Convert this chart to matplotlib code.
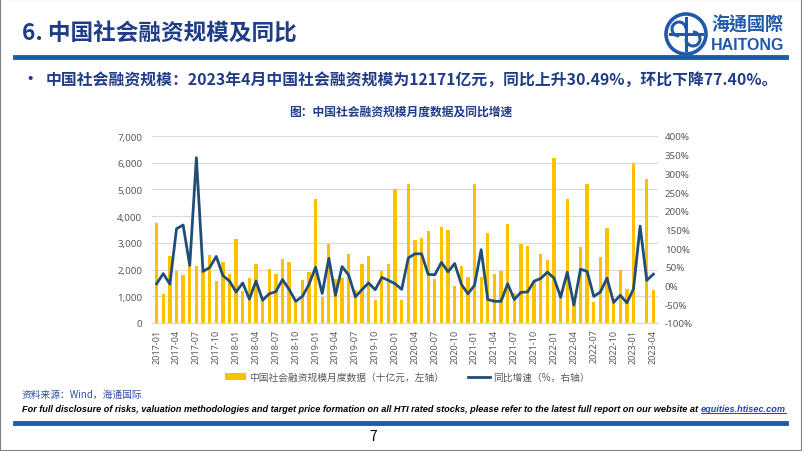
import matplotlib
matplotlib.use('Agg')
import matplotlib.pyplot as plt
import numpy as np
from matplotlib.patches import Circle, Rectangle, Patch, Arc
from matplotlib.lines import Line2D
from matplotlib.ticker import FuncFormatter, MultipleLocator

plt.rcParams['font.family'] = ['Noto Sans CJK SC', 'DejaVu Sans']

W, H = 802, 452

# monthly labels 2017-01 .. 2023-04
months = [f'{y}-{m:02d}' for y in range(2017, 2024) for m in range(1, 13)][:76]

# 社融月度数据（十亿元）
tsf = [3750, 1100, 2525, 1940, 1780, 2160, 2140, 1960, 2550, 1580, 2290, 1820,
       3140, 1200, 1700, 2220, 870, 2030, 1830, 2400, 2290, 800, 1600, 1925,
       4660, 975, 2960, 1660, 1700, 2600, 1250, 2190, 2500, 850, 1950, 2190,
       5025, 875, 5190, 3090, 3175, 3460, 1660, 3575, 3475, 1375, 2125, 1710,
       5190, 1710, 3375, 1850, 1940, 3690, 1125, 2975, 2900, 1590, 2600, 2350,
       6175, 1190, 4660, 910, 2840, 5190, 775, 2475, 3540, 900, 1975, 1290,
       5990, np.nan, 5375, 1217]

# 同比增速（%）
yoy = [5, 32, 4, 152, 162, 54, 342, 38, 48, 78, 27, 12,
       -17, 7, -36, 12, -39, -22, -16, 16, -10, -42, -29, 3,
       49, -21, 73, -26, 51, 28, -30, -11, 7, -11, 22, 14,
       5, -10, 74, 85, 85, 30, 29, 62, 37, 59, 4, -22,
       1, 96, -37, -42, -42, 5, -37, -18, -17, 12, 19, 36,
       20, -31, 36, -52, 44, 38, -29, -17, 20, -45, -26, -46,
       -9, 159, 14, 30.49]

navy = '#1F3C88'
blue = '#1F5AAA'
gold = '#FFC000'
line_c = '#1F4E79'
grey_txt = '#595959'


def fx(px):
    return px / W


def fy(py):
    return 1 - py / H


fig = plt.figure(figsize=(W / 100, H / 100), dpi=100)
fig.patch.set_facecolor('white')

# chart
x = np.arange(len(months))
ax = fig.add_axes([fx(152), fy(324), fx(658) - fx(152), fy(137) - fy(324)])
ax.bar(x, tsf, width=0.5, color=gold, zorder=2)
ax.set_ylim(0, 7000)
ax.set_xlim(-0.7, 75.7)
ax.yaxis.set_major_locator(MultipleLocator(1000))
ax.yaxis.set_major_formatter(FuncFormatter(lambda v, p: f'{int(v):,}'))
ax.grid(axis='y', color='#D9D9D9', lw=0.8, zorder=0)
ax.set_axisbelow(True)
for s in ['top', 'right', 'left']:
    ax.spines[s].set_visible(False)
ax.spines['bottom'].set_color('#D9D9D9')
ax.set_xticks(x[::3])
ax.set_xticklabels(months[::3], rotation=90, fontsize=6.5, color=grey_txt,
                   family=['Noto Sans', 'DejaVu Sans'])
ax.tick_params(axis='x', length=0, pad=4)
ax.tick_params(axis='y', length=0, pad=7, labelsize=7, labelcolor=grey_txt)
for t in ax.get_yticklabels():
    t.set_family(['Noto Sans', 'DejaVu Sans'])

ax2 = ax.twinx()
ax2.plot(x, yoy, color=line_c, lw=2.0, zorder=3)
ax2.set_ylim(-100, 400)
ax2.yaxis.set_major_locator(MultipleLocator(50))
ax2.yaxis.set_major_formatter(FuncFormatter(lambda v, p: f'{int(v)}%'))
for s in ['top', 'right', 'left', 'bottom']:
    ax2.spines[s].set_visible(False)
ax2.tick_params(axis='y', length=0, pad=5, labelsize=7, labelcolor=grey_txt)
for t in ax2.get_yticklabels():
    t.set_family(['Noto Sans', 'DejaVu Sans'])

handles = [Patch(facecolor=gold, edgecolor='none'),
           Line2D([0], [0], color=line_c, lw=2)]
fig.legend(handles, ['中国社会融资规模月度数据（十亿元，左轴）', '同比增速（%，右轴）'],
           loc='center', bbox_to_anchor=(fx(407), fy(378)), ncol=2, frameon=False,
           fontsize=7, labelcolor=grey_txt, handlelength=2.2, handleheight=0.6,
           handletextpad=0.3, columnspacing=2.5)

# header
fig.text(fx(22), fy(34), '6. 中国社会融资规模及同比', fontsize=16.3, weight='bold',
         color=navy, va='center')
fig.add_artist(Line2D([fx(15), fx(786)], [fy(58), fy(58)], lw=3.5, color=blue))
fig.text(fx(20), fy(80), '•', fontsize=14, color=navy, va='center')
fig.text(fx(46), fy(80),
         '中国社会融资规模：2023年4月中国社会融资规模为12171亿元，同比上升30.49%，环比下降77.40%。',
         fontsize=11.4, weight='bold', color=navy, va='center')
fig.text(fx(401), fy(112), '图：中国社会融资规模月度数据及同比增速', fontsize=8.5,
         weight='bold', color=navy, ha='center', va='center')

# logo
lax = fig.add_axes([fx(664), fy(58), fx(44), fy(12) - fy(58)])
lax.set_xlim(-1.1, 1.1)
lax.set_ylim(-1.1, 1.1)
lax.set_aspect('equal')
lax.axis('off')
lax.add_patch(Circle((0, 0), 1.0, fill=False, ec=blue, lw=2.6))
lax.add_patch(Arc((-0.35, 0.25), 0.7, 0.7, theta1=0, theta2=270, ec=blue, lw=2.2))
lax.add_patch(Arc((0.35, -0.25), 0.7, 0.7, theta1=180, theta2=90, ec=blue, lw=2.2))
lax.plot([-0.8, 0.8], [0, 0], color=blue, lw=2.2)
lax.plot([0, 0], [-0.8, 0.8], color=blue, lw=2.2)
fig.text(fx(711), fy(25), '海通國際', fontsize=13, weight='bold', color=blue,
         va='center', family=['Noto Sans CJK TC', 'Noto Sans CJK SC'])
fig.text(fx(711), fy(46), 'HAITONG', fontsize=11.5, weight='bold', color=blue,
         va='center', family=['Liberation Sans', 'DejaVu Sans'])

# footer
fig.text(fx(22), fy(395), '资料来源：Wind，海通国际', fontsize=7, color='#2F50A8',
         va='center')
disc_font = dict(style='italic', weight='bold', va='center',
                 family=['Liberation Sans', 'DejaVu Sans'])
disc = fig.text(fx(22), fy(410),
                'For full disclosure of risks, valuation methodologies and target price '
                'formation on all HTI rated stocks, please refer to the latest full report '
                'on our website at ', fontsize=7, color='black', **disc_font)
link = fig.text(0, fy(410), 'equities.htisec.com', fontsize=7, color='#1F3FBF', **disc_font)
fig.canvas.draw()
r = fig.canvas.get_renderer()
total = disc.get_window_extent(r).width + link.get_window_extent(r).width
fs = 7 * (785 - 22) / total
disc.set_fontsize(fs)
link.set_fontsize(fs)
fig.canvas.draw()
bb = disc.get_window_extent(r)
link.set_x(bb.x1 / W)
fig.canvas.draw()
lb = link.get_window_extent(r)
fig.add_artist(Line2D([lb.x0 / W, lb.x1 / W], [lb.y0 / H + 0.002] * 2, lw=0.7,
                      color='#1F3FBF'))
fig.add_artist(Line2D([fx(15), fx(786)], [fy(424), fy(424)], lw=3.5, color=blue))
fig.text(fx(373), fy(437), '7', fontsize=10, color='black', ha='center', va='center')

fig.add_artist(Rectangle((0, 0), 1, 1, transform=fig.transFigure, fill=False,
                         ec='#7F7F7F', lw=1.5))

fig.savefig('out.png', dpi=100)
